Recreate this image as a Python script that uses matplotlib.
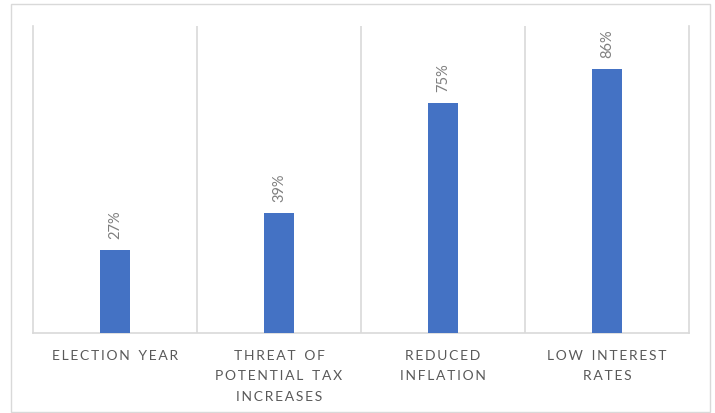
import matplotlib.pyplot as plt
from matplotlib.patches import Rectangle

categories = ["ELECTION YEAR", "THREAT OF\nPOTENTIAL TAX\nINCREASES", "REDUCED\nINFLATION", "LOW INTEREST\nRATES"]
values = [27, 39, 75, 86]
value_labels = ["27%", "39%", "75%", "86%"]

BAR_COLOR = "#4472C4"
GRID = "#d9d9d9"


def spaced(s):
    # fake Excel's letter spacing
    out = []
    for line in s.split("\n"):
        out.append("\u2009".join(line.replace(" ", "\u2009\u2009")))
    return "\n".join(out)


plt.rcParams['font.family'] = ['Lato', 'DejaVu Sans']

fig = plt.figure(figsize=(7.15, 4.13), dpi=100)
ax = fig.add_axes([33 / 715, 1 - 333 / 413, (689 - 33) / 715, (333 - 26) / 413])

x = list(range(len(categories)))
ax.bar(x, values, width=0.18, color=BAR_COLOR, zorder=3)
for xi, v, lab in zip(x, values, value_labels):
    ax.annotate(lab, (xi, v), xytext=(0, 8), textcoords="offset points",
                rotation=90, ha="center", va="bottom", fontsize=10.5, color="#7f7f7f")

ax.set_xlim(-0.5, len(categories) - 0.5)
ax.set_ylim(0, 100)
ax.set_yticks([])
ax.set_xticks(x)
ax.set_xticklabels([spaced(c) for c in categories], fontsize=10, color="#595959", linespacing=1.85)
ax.tick_params(axis="x", length=0, pad=12)

for b in [0.5, 1.5, 2.5]:
    ax.axvline(b, color=GRID, lw=1.2, zorder=1)
for s in ["left", "right", "bottom"]:
    ax.spines[s].set_color(GRID)
    ax.spines[s].set_linewidth(1.2)
ax.spines["top"].set_visible(False)

fig.patches.append(Rectangle((11 / 715, 1 / 413), (710 - 11) / 715, (409 - 1) / 413,
                             transform=fig.transFigure, fill=False, edgecolor=GRID, lw=1))

fig.savefig("out.png", dpi=100)
